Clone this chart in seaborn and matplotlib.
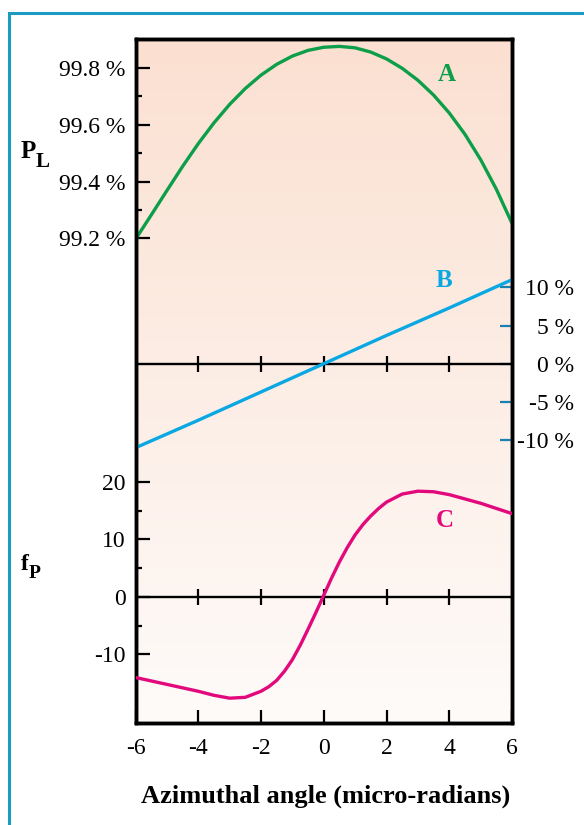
import numpy as np
import pandas as pd
import matplotlib
matplotlib.use("Agg")
import matplotlib.pyplot as plt
import matplotlib.patches as mpatches
from matplotlib.ticker import FixedLocator, FuncFormatter
import seaborn as sns

# ---------------- data ----------------
a_angle = [-6.0, -5.5, -5.0, -4.5, -4.0, -3.5, -3.0, -2.5, -2.0, -1.5, -1.0, -0.5,
           0.0, 0.5, 1.0, 1.5, 2.0, 2.5, 3.0, 3.5, 4.0, 4.5, 5.0, 5.5, 6.0]
pl_A = [99.197, 99.282, 99.368, 99.453, 99.533, 99.606, 99.671, 99.727, 99.774,
        99.812, 99.841, 99.861, 99.872, 99.875, 99.870, 99.855, 99.831, 99.798,
        99.756, 99.704, 99.641, 99.566, 99.477, 99.373, 99.253]

b_angle = [-6, -4, -2, 0, 2, 4, 6]
b_pct = [-11.0, -7.4, -3.7, 0.0, 3.7, 7.3, 11.0]

c_angle = [-6.0, -5.0, -4.0, -3.5, -3.0, -2.5, -2.0, -1.75, -1.5, -1.25, -1.0,
           -0.75, -0.5, -0.25, 0.0, 0.25, 0.5, 0.75, 1.0, 1.25, 1.5, 1.75, 2.0,
           2.5, 3.0, 3.5, 4.0, 5.0, 6.0]
fp_C = [-14.0, -15.2, -16.4, -17.1, -17.6, -17.45, -16.4, -15.6, -14.5, -12.9,
        -10.9, -8.4, -5.6, -2.7, 0.3, 3.3, 6.1, 8.6, 10.8, 12.6, 14.1, 15.4,
        16.5, 17.9, 18.4, 18.3, 17.8, 16.3, 14.5]

x_ticks = [-6, -4, -2, 0, 2, 4, 6]
cross_ticks = [-4, -2, 0, 2, 4]
a_major = [99.2, 99.4, 99.6, 99.8]
a_minor = [99.3, 99.5, 99.7]
b_ticks = [-10, -5, 0, 5, 10]
c_major = [-10, 0, 10, 20]
c_minor = [-5, 5, 15]

labels_curves = ["A", "B", "C"]
x_title = "Azimuthal angle (micro-radians)"

GREEN = "#0c9e49"
BLUE = "#0aa8e3"
MAGENTA = "#e2097c"
TEAL = "#1b7fb0"
BORDER = "#1b9bc2"

# ---------------- style ----------------
sns.set_theme(style="white")
plt.rcParams["font.family"] = ["Liberation Serif", "DejaVu Serif"]
plt.rcParams["axes.unicode_minus"] = False
for k in ("text.color", "axes.labelcolor", "xtick.color", "ytick.color",
          "axes.edgecolor"):
    plt.rcParams[k] = "black"

W, H = 584, 825
fig = plt.figure(figsize=(W / 100, H / 100), dpi=100)
fig.patch.set_facecolor("white")

left_px, right_px, top_px, bot_px = 135.5, 512.0, 39.0, 722.5
ax = fig.add_axes([left_px / W, 1 - bot_px / H,
                   (right_px - left_px) / W, (bot_px - top_px) / H])

# gradient background
top_c = np.array([251, 224, 209]) / 255.0
bot_c = np.array([254, 251, 249]) / 255.0
t = np.linspace(0, 1, 256)[:, None]
grad = (top_c[None, :] * (1 - t) + bot_c[None, :] * t)[:, None, :]
ax.imshow(grad, extent=[0, 1, 0, 1], transform=ax.transAxes, aspect="auto",
          zorder=-10, interpolation="bicubic")

axB = ax.twinx()
axC = ax.twinx()
axC.yaxis.tick_left()
axC.yaxis.set_label_position("left")

# limits derived from pixel positions of ticks
ax.set_xlim(-6, 6)
ax.set_ylim(97.498, 99.901)
axB.set_ylim(-46.96, 42.5)
axC.set_ylim(-21.83, 97.04)

# zero lines with crossing ticks
for a in (axB, axC):
    a.axhline(0, color="black", lw=1.7, zorder=1)
    a.plot(cross_ticks, [0] * len(cross_ticks), ls="none", marker="|",
           ms=11.5, mew=1.6, color="black", zorder=1)

# curves
sns.lineplot(x=a_angle, y=pl_A, ax=ax, color=GREEN, lw=2.4, zorder=3)
sns.lineplot(x=b_angle, y=b_pct, ax=axB, color=BLUE, lw=2.4, zorder=3)
sns.lineplot(x=c_angle, y=fp_C, ax=axC, color=MAGENTA, lw=2.4, zorder=3)

for a in (ax, axB, axC):
    a.set_xlim(-6, 6)
    a.set_xlabel("")
    a.set_ylabel("")
    for s in a.spines.values():
        s.set_linewidth(2.4)
        s.set_color("black")

# A axis (left, top part)
ax.yaxis.set_major_locator(FixedLocator(a_major))
ax.yaxis.set_minor_locator(FixedLocator(a_minor))
ax.yaxis.set_major_formatter(FuncFormatter(lambda v, p: f"{v:.1f} %"))
ax.tick_params(axis="y", which="major", direction="in", length=10, width=1.6,
               labelsize=17, pad=7, left=True, right=False, colors="black")
ax.tick_params(axis="y", which="minor", direction="in", length=4.5, width=1.6,
               left=True, right=False, colors="black")

# x axis
ax.set_xticks(x_ticks)
ax.set_xticklabels([str(v) for v in x_ticks])
ax.tick_params(axis="x", which="major", direction="in", length=9.5, width=1.6,
               labelsize=17, pad=11, bottom=True, top=False, colors="black")

# B axis (right)
axB.set_yticks(b_ticks)
axB.set_yticklabels([f"{v} %" for v in b_ticks])
axB.tick_params(axis="y", which="major", direction="in", length=8.5, width=1.6,
                labelsize=17, pad=44.5, right=True, left=False, color=TEAL,
                labelcolor="black")
plt.setp(axB.get_yticklabels(), ha="right")

# C axis (left, bottom part)
axC.yaxis.set_major_locator(FixedLocator(c_major))
axC.yaxis.set_minor_locator(FixedLocator(c_minor))
axC.yaxis.set_major_formatter(FuncFormatter(lambda v, p: f"{int(v)}"))
axC.tick_params(axis="y", which="major", direction="in", length=10, width=1.6,
                labelsize=17, pad=7, left=True, right=False, colors="black")
axC.tick_params(axis="y", which="minor", direction="in", length=4.5, width=1.6,
                left=True, right=False, colors="black")


def fx(px):
    return px / W


def fy(py):
    return 1 - py / H


# curve labels
for lab, (px, py), col in zip(labels_curves,
                              [(446.5, 81.4), (444.0, 287.3), (444.7, 527.0)],
                              [GREEN, BLUE, MAGENTA]):
    fig.text(fx(px), fy(py), lab, color=col, fontsize=18, fontweight="bold",
             ha="center", va="baseline")

# axis titles
fig.text(fx(20.5), fy(158.3), "P", fontsize=18, fontweight="bold",
         ha="left", va="baseline", color="black")
fig.text(fx(36.0), fy(166.7), "L", fontsize=15, fontweight="bold",
         ha="left", va="baseline", color="black")
fig.text(fx(20.5), fy(570.0), "f", fontsize=17, fontweight="bold",
         ha="left", va="baseline", color="black")
fig.text(fx(28.3), fy(578.0), "P", fontsize=14, fontweight="bold",
         ha="left", va="baseline", color="black")

fig.text(fx(326.0), fy(802.5), x_title, fontsize=19, fontweight="bold",
         ha="center", va="baseline", color="black")

# outer border
border = mpatches.Rectangle((fx(9.0), -0.05), 1.2, 0.05 + fy(12.5),
                            transform=fig.transFigure, fill=False,
                            edgecolor=BORDER, lw=2.2, clip_on=False)
fig.add_artist(border)

fig.savefig("out.png", dpi=100)
